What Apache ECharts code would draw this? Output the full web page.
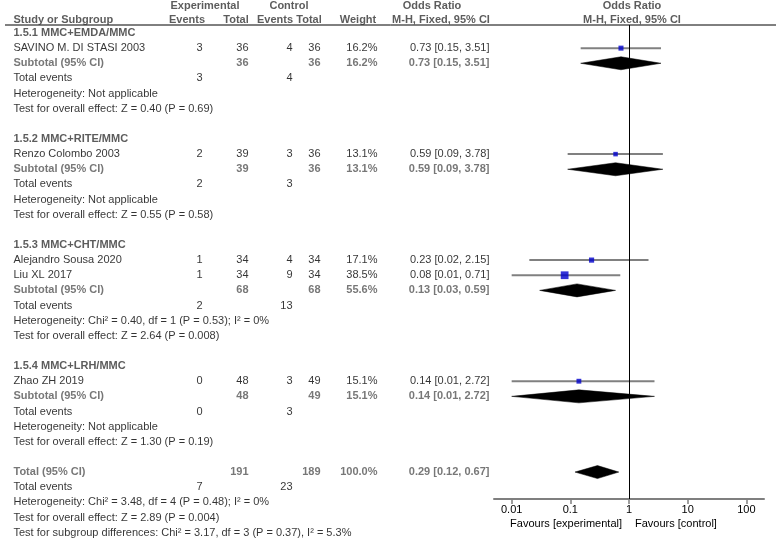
<!DOCTYPE html>
<html><head><meta charset="utf-8">
<script src="https://cdn.jsdelivr.net/npm/echarts@6/dist/echarts.min.js"></script>
<style>html,body{margin:0;padding:0;background:#fff}#c{width:776px;height:540px}</style>
</head><body><div id="c"></div>
<script>
// ---------------- DATA ----------------
const groups = ['1.5.1 MMC+EMDA/MMC', '1.5.2 MMC+RITE/MMC', '1.5.3 MMC+CHT/MMC', '1.5.4 MMC+LRH/MMC'];
const studyNames = ['SAVINO M. DI STASI 2003', 'Renzo Colombo 2003', 'Alejandro Sousa 2020', 'Liu XL 2017', 'Zhao ZH 2019'];
const studyGroup = [0, 1, 2, 2, 3];
const expEvents = [3, 2, 1, 1, 0];
const expTotal = [36, 39, 34, 34, 48];
const ctrlEvents = [4, 3, 4, 9, 3];
const ctrlTotal = [36, 36, 34, 34, 49];
const studyWeight = [16.2, 13.1, 17.1, 38.5, 15.1];
const studyOR = [0.73, 0.59, 0.23, 0.08, 0.14];
const studyLow = [0.15, 0.09, 0.02, 0.01, 0.01];
const studyHigh = [3.51, 3.78, 2.15, 0.71, 2.72];

const subExpTotal = [36, 39, 68, 48];
const subCtrlTotal = [36, 36, 68, 49];
const subWeight = [16.2, 13.1, 55.6, 15.1];
const subOR = [0.73, 0.59, 0.13, 0.14];
const subLow = [0.15, 0.09, 0.03, 0.01];
const subHigh = [3.51, 3.78, 0.59, 2.72];
const subExpEvents = [3, 2, 2, 0];
const subCtrlEvents = [4, 3, 13, 3];
const subHeterogeneity = ['Not applicable', 'Not applicable', 'Chi\u00b2 = 0.40, df = 1 (P = 0.53); I\u00b2 = 0%', 'Not applicable'];
const subOverall = ['Z = 0.40 (P = 0.69)', 'Z = 0.55 (P = 0.58)', 'Z = 2.64 (P = 0.008)', 'Z = 1.30 (P = 0.19)'];

const totalExpTotal = 191, totalCtrlTotal = 189, totalWeight = 100.0;
const totalOR = 0.29, totalLow = 0.12, totalHigh = 0.67;
const totalExpEvents = 7, totalCtrlEvents = 23;
const totalHeterogeneity = 'Chi\u00b2 = 3.48, df = 4 (P = 0.48); I\u00b2 = 0%';
const totalOverall = 'Z = 2.89 (P = 0.004)';
const subgroupDiff = 'Chi\u00b2 = 3.17, df = 3 (P = 0.37), I\u00b2 = 5.3%';

const tickValues = [0.01, 0.1, 1, 10, 100];
const tickLabels = ['0.01', '0.1', '1', '10', '100'];

// ---------------- LAYOUT / STYLE ----------------
const FONT = "'Liberation Sans', Arial, Helvetica, sans-serif";
const FS = 11;
const W = 776, H = 540;
const ROW0_Y = 33, ROW_H = 15.14;
const FOREST_LEFT = 494, FOREST_RIGHT = 12, FOREST_TOP = 25, FOREST_BOTTOM_Y = 499;
const cols = {
  name:    { x: 13,  align: 'left' },
  expEv:   { x: 203, align: 'right' },
  expTot:  { x: 249, align: 'right' },
  ctrlEv:  { x: 293, align: 'right' },
  ctrlTot: { x: 321, align: 'right' },
  weight:  { x: 378, align: 'right' },
  orTxt:   { x: 490, align: 'right' }
};
const kinds = {
  normal: { color: '#000', fontWeight: 'normal' },
  group:  { color: '#333', fontWeight: 'bold' },
  sub:    { color: '#555', fontWeight: 'bold' },
  head:   { color: '#333', fontWeight: 'bold' }
};

const fmt2 = v => v.toFixed(2);
const ciText = (o, l, h) => fmt2(o) + ' [' + fmt2(l) + ', ' + fmt2(h) + ']';
const pct = v => v.toFixed(1) + '%';

// ---------------- BUILD ROWS ----------------
const texts = [];
const studyMarks = [];
const diamondMarks = [];
function t(col, row, text, kind) { texts.push({ col, row, text: String(text), kind: kind || 'normal' }); }

let r = 0;
groups.forEach((g, gi) => {
  t('name', r, g, 'group'); r++;
  studyNames.forEach((nm, si) => {
    if (studyGroup[si] !== gi) return;
    t('name', r, nm);
    t('expEv', r, expEvents[si]); t('expTot', r, expTotal[si]);
    t('ctrlEv', r, ctrlEvents[si]); t('ctrlTot', r, ctrlTotal[si]);
    t('weight', r, pct(studyWeight[si]));
    t('orTxt', r, ciText(studyOR[si], studyLow[si], studyHigh[si]));
    studyMarks.push([studyLow[si], studyHigh[si], studyOR[si], r, studyWeight[si]]);
    r++;
  });
  t('name', r, 'Subtotal (95% CI)', 'sub');
  t('expTot', r, subExpTotal[gi], 'sub'); t('ctrlTot', r, subCtrlTotal[gi], 'sub');
  t('weight', r, pct(subWeight[gi]), 'sub');
  t('orTxt', r, ciText(subOR[gi], subLow[gi], subHigh[gi]), 'sub');
  diamondMarks.push([subLow[gi], subHigh[gi], subOR[gi], r]);
  r++;
  t('name', r, 'Total events'); t('expEv', r, subExpEvents[gi]); t('ctrlEv', r, subCtrlEvents[gi]); r++;
  t('name', r, 'Heterogeneity: ' + subHeterogeneity[gi]); r++;
  t('name', r, 'Test for overall effect: ' + subOverall[gi]); r++;
  r++;
});
t('name', r, 'Total (95% CI)', 'sub');
t('expTot', r, totalExpTotal, 'sub'); t('ctrlTot', r, totalCtrlTotal, 'sub');
t('weight', r, pct(totalWeight), 'sub');
t('orTxt', r, ciText(totalOR, totalLow, totalHigh), 'sub');
diamondMarks.push([totalLow, totalHigh, totalOR, r]);
r++;
t('name', r, 'Total events'); t('expEv', r, totalExpEvents); t('ctrlEv', r, totalCtrlEvents); r++;
t('name', r, 'Heterogeneity: ' + totalHeterogeneity); r++;
t('name', r, 'Test for overall effect: ' + totalOverall); r++;
t('name', r, 'Test for subgroup differences: ' + subgroupDiff); r++;

const yToRow = y => (y - ROW0_Y) / ROW_H;

// header texts (centered columns)
const headers = [
  { x: 205, y: 6, text: 'Experimental' },
  { x: 289, y: 6, text: 'Control' },
  { x: 432, y: 6, text: 'Odds Ratio' },
  { x: 632, y: 6, text: 'Odds Ratio' },
  { x: 187, y: 20, text: 'Events' },
  { x: 236, y: 20, text: 'Total' },
  { x: 275, y: 20, text: 'Events' },
  { x: 309, y: 20, text: 'Total' },
  { x: 358, y: 20, text: 'Weight' },
  { x: 441, y: 20, text: 'M-H, Fixed, 95% CI' },
  { x: 632, y: 20, text: 'M-H, Fixed, 95% CI' }
];

function labelItem(x, row, text, align, kind) {
  const k = kinds[kind];
  return {
    value: [x, row],
    label: {
      show: true, formatter: text,
      position: align === 'left' ? 'right' : (align === 'right' ? 'left' : 'inside'),
      distance: 0,
      color: k.color, fontWeight: k.fontWeight, fontFamily: FONT, fontSize: FS
    }
  };
}
const textData = texts.map(o => labelItem(cols[o.col].x, o.row, o.text, cols[o.col].align, o.kind));
headers.forEach(h => textData.push(labelItem(h.x, yToRow(h.y), h.text, 'center', 'head')));
textData.push(labelItem(13, yToRow(20), 'Study or Subgroup', 'left', 'head'));

// ---------------- CHART ----------------
const chart = echarts.init(document.getElementById('c'), null, { renderer: 'canvas' });
const option = {
  backgroundColor: '#fff',
  animation: false,
  textStyle: { fontFamily: FONT },
  grid: [
    { left: 0, right: 0, top: 0, bottom: 0 },
    { left: FOREST_LEFT, right: FOREST_RIGHT, top: FOREST_TOP, bottom: H - FOREST_BOTTOM_Y }
  ],
  xAxis: [
    { gridIndex: 0, type: 'value', min: 0, max: W, show: false },
    {
      gridIndex: 1, type: 'log', logBase: 10, min: 0.005, max: 200, position: 'bottom',
      axisLine: { show: true, onZero: false, lineStyle: { color: '#7f7f7f', width: 2 } },
      axisTick: { show: true, length: 5, customValues: tickValues, lineStyle: { color: '#7f7f7f', width: 1.5 } },
      axisLabel: {
        show: true, customValues: tickValues, margin: 5, color: '#000', fontSize: FS, fontFamily: FONT,
        formatter: v => { const i = tickValues.findIndex(tv => Math.abs(tv - v) < 1e-9 * Math.max(1, tv)); return i >= 0 ? tickLabels[i] : String(v); }
      },
      splitLine: { show: false }, minorTick: { show: false }, minorSplitLine: { show: false }
    }
  ],
  yAxis: [
    { gridIndex: 0, type: 'value', inverse: true, min: yToRow(0), max: yToRow(H), show: false },
    { gridIndex: 1, type: 'value', inverse: true, min: yToRow(FOREST_TOP), max: yToRow(FOREST_BOTTOM_Y), show: false }
  ],
  series: [
    {
      type: 'scatter', xAxisIndex: 0, yAxisIndex: 0, silent: true, symbolSize: 1,
      itemStyle: { color: 'rgba(0,0,0,0)' }, clip: false, data: textData, z: 5
    },
    {
      type: 'custom', xAxisIndex: 1, yAxisIndex: 1, silent: true, clip: false, z: 3,
      encode: { x: [0, 1, 2], y: 3 },
      renderItem: (params, api) => {
        const a = api.coord([api.value(0), api.value(3)]);
        const b = api.coord([api.value(1), api.value(3)]);
        return { type: 'line', shape: { x1: a[0], y1: a[1], x2: b[0], y2: b[1] }, style: { stroke: '#808080', lineWidth: 2 } };
      },
      data: studyMarks,
      markLine: {
        silent: true, symbol: 'none', label: { show: false },
        lineStyle: { color: '#000', width: 1, type: 'solid' },
        data: [{ xAxis: 1 }]
      }
    },
    {
      type: 'scatter', xAxisIndex: 1, yAxisIndex: 1, silent: true, z: 4, clip: false,
      symbol: 'rect', itemStyle: { color: '#0000cc' },
      symbolSize: v => 1.25 * Math.sqrt(v[2]),
      data: studyMarks.map(m => [m[2], m[3], m[4]])
    },
    {
      type: 'custom', xAxisIndex: 1, yAxisIndex: 1, silent: true, clip: false, z: 4,
      encode: { x: [0, 1, 2], y: 3 },
      renderItem: (params, api) => {
        const lo = api.coord([api.value(0), api.value(3)]);
        const hi = api.coord([api.value(1), api.value(3)]);
        const c = api.coord([api.value(2), api.value(3)]);
        const hh = 6.5;
        return {
          type: 'polygon',
          shape: { points: [[lo[0], lo[1]], [c[0], c[1] - hh], [hi[0], hi[1]], [c[0], c[1] + hh]] },
          style: { fill: '#000', stroke: '#000', lineWidth: 0.5 }
        };
      },
      data: diamondMarks
    }
  ],
  graphic: [
    { type: 'line', silent: true, shape: { x1: 5, y1: 25, x2: W, y2: 25 }, style: { stroke: '#000', lineWidth: 1 } },
    { type: 'text', silent: true, x: 622, y: 524, style: { text: 'Favours [experimental]', align: 'right', verticalAlign: 'middle', fill: '#000', font: FS + 'px ' + FONT } },
    { type: 'text', silent: true, x: 635, y: 524, style: { text: 'Favours [control]', align: 'left', verticalAlign: 'middle', fill: '#000', font: FS + 'px ' + FONT } }
  ]
};
chart.setOption(option);
</script>
</body></html>
